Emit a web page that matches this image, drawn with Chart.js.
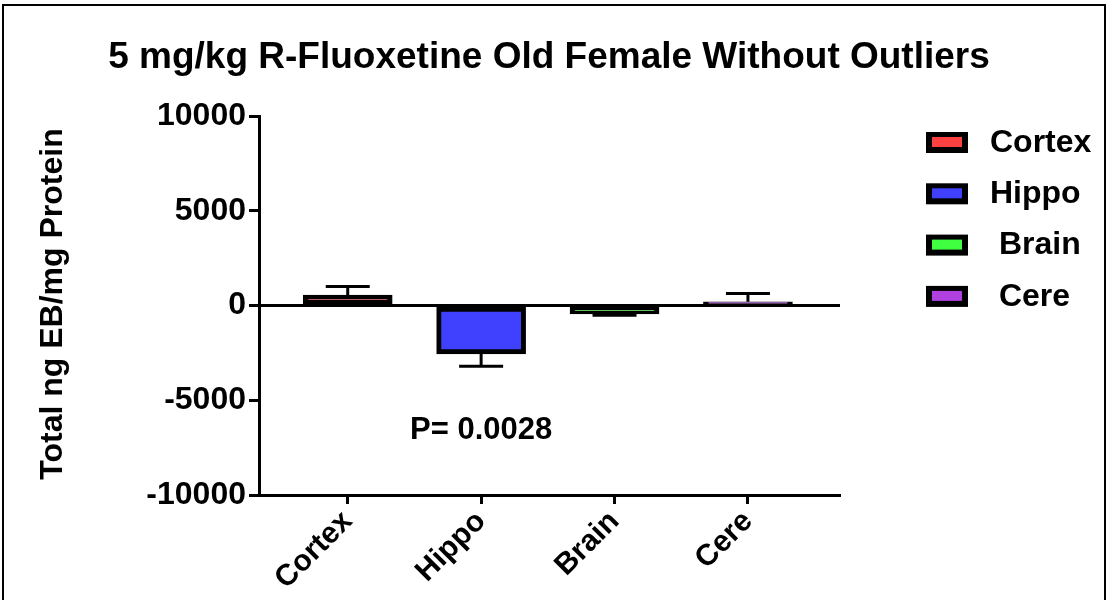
<!DOCTYPE html>
<html>
<head>
<meta charset="utf-8">
<script src="https://cdn.jsdelivr.net/npm/chart.js@4.4.1/dist/chart.umd.min.js"></script>
<style>
html,body{margin:0;padding:0;background:#fff;}
#wrap{position:relative;width:1108px;height:600px;}
canvas{display:block;}
</style>
</head>
<body>
<div id="wrap"><canvas id="c" width="1108" height="600"></canvas></div>
<script>
const categories = ['Cortex', 'Hippo', 'Brain', 'Cere'];
const legendLabels = ['Cortex', 'Hippo', ' Brain', ' Cere'];
const means = [550, -2550, -450, 200];
const sems = [450, 650, 60, 430];
const barColors = ['#ff4040', '#4040ff', '#40ff40', '#b040e0'];
const yTicks = [-10000, -5000, 0, 5000, 10000];
const titleText = '5 mg/kg R-Fluoxetine Old Female Without Outliers';
const yTitleText = 'Total ng EB/mg Protein';
const pText = 'P= 0.0028';
const pAt = {category: 1, value: -6600};

const FONT = '"Liberation Sans", Arial, sans-serif';

const overlay = {
  id: 'overlay',
  afterDatasetsDraw(chart) {
    const ctx = chart.ctx;
    const xs = chart.scales.x, ys = chart.scales.y;
    ctx.save();
    ctx.strokeStyle = '#000';
    ctx.lineWidth = 3;
    ctx.lineCap = 'butt';
    means.forEach((m, i) => {
      const x = xs.getPixelForValue(i);
      const dir = m >= 0 ? 1 : -1;
      const y0 = ys.getPixelForValue(m);
      const y1 = ys.getPixelForValue(m + dir * sems[i]);
      ctx.beginPath();
      ctx.moveTo(x, y0); ctx.lineTo(x, y1);
      ctx.moveTo(x - 22, y1); ctx.lineTo(x + 22, y1);
      ctx.stroke();
    });
    ctx.restore();
  },
  afterDraw(chart) {
    const ctx = chart.ctx;
    const xs = chart.scales.x, ys = chart.scales.y;
    ctx.save();
    ctx.strokeStyle = '#000';
    ctx.lineWidth = 2;
    ctx.strokeRect(3, 5, 1102, 640);
    ctx.fillStyle = '#000';
    ctx.font = 'bold 37px ' + FONT;
    ctx.textAlign = 'center';
    ctx.textBaseline = 'middle';
    ctx.fillText(titleText, 549, 58);
    ctx.save();
    ctx.translate(53, 304);
    ctx.rotate(-Math.PI / 2);
    ctx.font = 'bold 32px ' + FONT;
    ctx.fillText(yTitleText, 0, 0);
    ctx.restore();
    ctx.font = 'bold 31px ' + FONT;
    ctx.fillText(pText, xs.getPixelForValue(pAt.category), ys.getPixelForValue(pAt.value));
    ctx.textAlign = 'left';
    ctx.font = 'bold 32px ' + FONT;
    legendLabels.forEach((lab, i) => {
      const cy = 142 + i * 51.3;
      ctx.fillStyle = '#000';
      ctx.fillRect(926, cy - 10, 42, 21);
      ctx.fillStyle = barColors[i];
      ctx.fillRect(932, cy - 5, 30, 10);
      ctx.fillStyle = '#000';
      ctx.fillText(lab, 990, cy + 1);
    });
    ctx.restore();
  }
};

new Chart(document.getElementById('c'), {
  type: 'bar',
  data: {
    datasets: [{
      data: means.map((v, i) => ({x: i, y: v})),
      backgroundColor: barColors,
      borderColor: '#000',
      borderWidth: 5,
      borderSkipped: false,
      barThickness: 89
    }]
  },
  options: {
    responsive: false,
    animation: false,
    devicePixelRatio: 1,
    layout: {padding: {left: 0, top: 116, right: 268, bottom: 0}},
    plugins: {legend: {display: false}, tooltip: {enabled: false}, title: {display: false}},
    scales: {
      x: {
        type: 'linear',
        offset: false,
        min: -0.665,
        max: 3.69,
        afterFit: s => { s.height = 105; },
        afterBuildTicks: s => { s.ticks = categories.map((c, i) => ({value: i})); },
        ticks: {
          callback: (v) => categories[Math.round(v)],
          autoSkip: false,
          minRotation: 45,
          maxRotation: 45,
          color: '#000',
          font: {family: FONT, size: 30, weight: 'bold'},
          padding: 0
        },
        grid: {offset: false, drawOnChartArea: false, drawTicks: true, tickLength: 9, tickWidth: 3, tickColor: '#000'},
        border: {display: true, color: '#000', width: 3}
      },
      y: {
        min: -10000,
        max: 10000,
        afterFit: s => { s.width = 259; },
        afterBuildTicks: s => { s.ticks = yTicks.map(v => ({value: v})); },
        ticks: {
          callback: v => String(v),
          color: '#000',
          font: {family: FONT, size: 32, weight: 'bold'},
          padding: 3
        },
        grid: {
          drawOnChartArea: true,
          color: c => (c.tick && c.tick.value === 0) ? '#000' : 'rgba(0,0,0,0)',
          lineWidth: 3,
          drawTicks: true,
          tickLength: 10,
          tickWidth: 3,
          tickColor: '#000'
        },
        border: {display: true, color: '#000', width: 3}
      }
    }
  },
  plugins: [overlay]
});
</script>
</body>
</html>
